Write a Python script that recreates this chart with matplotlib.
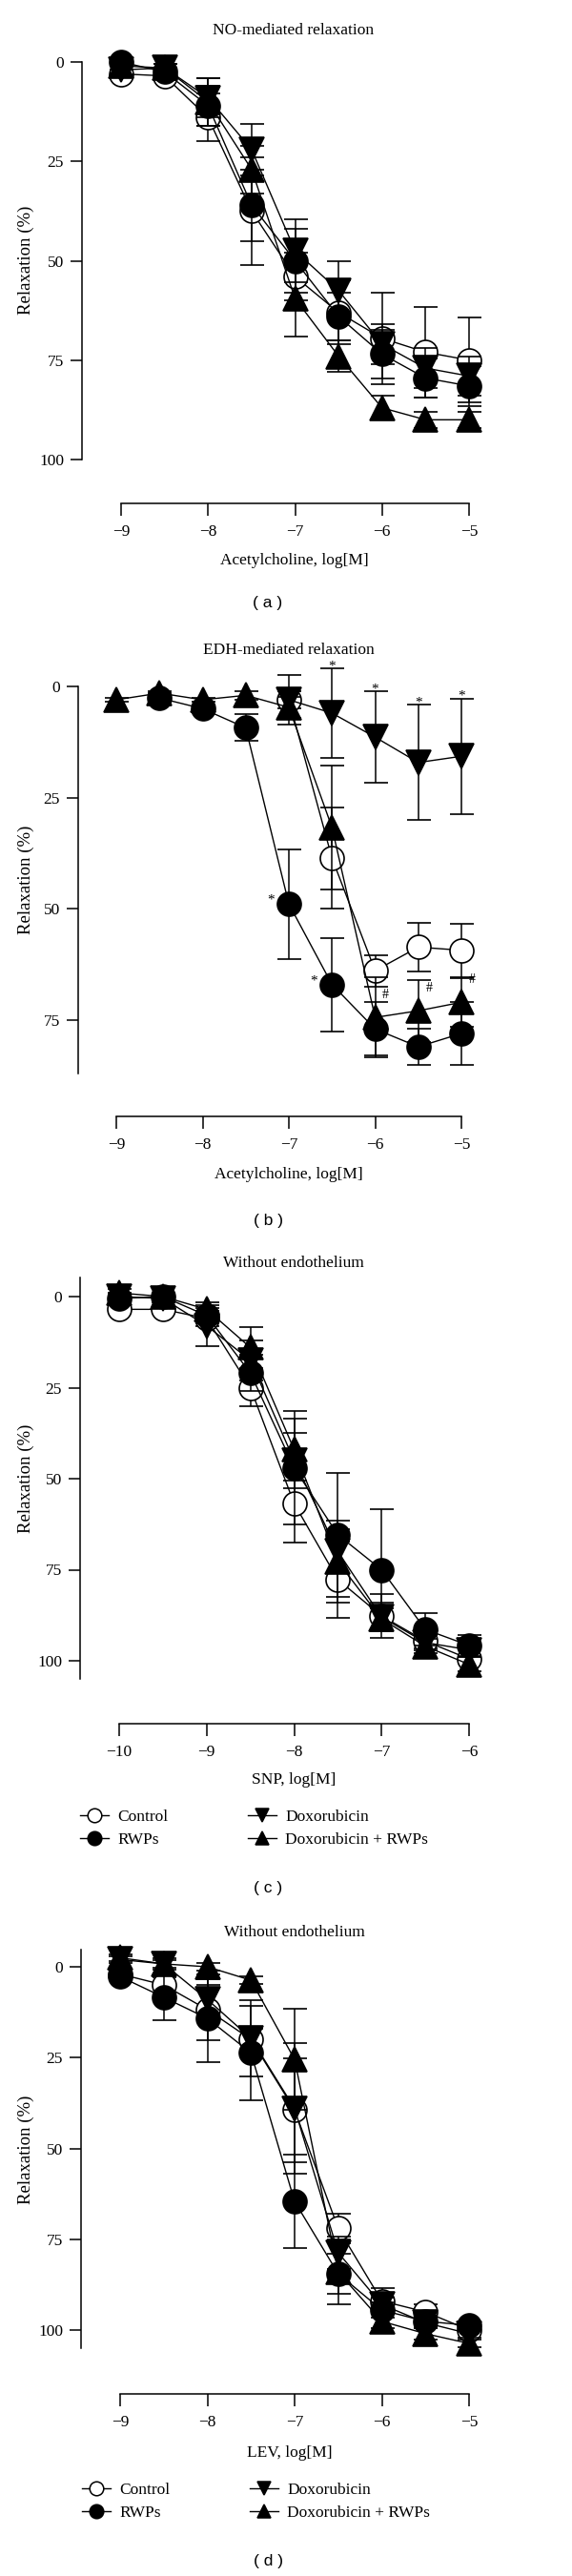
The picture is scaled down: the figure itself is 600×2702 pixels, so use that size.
import matplotlib
matplotlib.use("Agg")
import matplotlib.pyplot as plt
from matplotlib.lines import Line2D

plt.rcParams['font.family'] = ['Liberation Serif', 'DejaVu Serif']
plt.rcParams['axes.unicode_minus'] = True

W, H, DPI = 600, 2702, 100
FS = 12.5

# ---------------- data ----------------
series_labels = ["Control", "RWPs", "Doxorubicin", "Doxorubicin + RWPs"]

# (a) NO-mediated relaxation, Acetylcholine
xa = [-9, -8.5, -8, -7.5, -7, -6.5, -6, -5.5, -5]
a_ctrl = [3, 3.5, 14, 37.5, 54, 63, 69.5, 73, 75]
a_ctrl_err = [1, 1, 6, 13.5, 6, 8, 11.5, 11.4, 10.7]
a_rwps = [0, 2.5, 11, 36, 50, 64, 73.5, 79.5, 81.5]
a_rwps_err = [0.5, 1, 5, 9, 8, 6, 6, 5, 5]
a_dox = [2, 1.5, 9, 22, 47.5, 57.5, 71, 77, 79]
a_dox_err = [1, 1, 5, 6.5, 8, 7.5, 5, 5, 5]
a_doxr = [1, 1.5, 10, 27, 59.5, 74, 87, 90, 90]
a_doxr_err = [1, 1, 6, 6, 9.5, 4, 3, 2, 2]

# (b) EDH-mediated relaxation, Acetylcholine
xb = [-9, -8.5, -8, -7.5, -7, -6.5, -6, -5.5, -5]
b_doxr = [3, 1.5, 3, 2, 4.7, 31.7, 74.4, 72.9, 71]
b_doxr_err = [0.5, 0.5, 0.5, 1, 2.3, 14, 9, 7, 5.5]
xb_c = [-7, -6.5, -6, -5.5, -5]
b_ctrl = [3, 38.6, 63.9, 58.6, 59.3]
b_ctrl_err = [2, 11.4, 3.5, 5.5, 6]
xb_r = [-8.5, -8, -7.5, -7, -6.5, -6, -5.5, -5]
b_rwps = [2.6, 5, 9.3, 48.9, 67, 77, 81, 78]
b_rwps_err = [1, 1, 3, 12.3, 10.5, 6, 4, 7]
xb_d = [-7, -6.5, -6, -5.5, -5]
b_dox = [3, 6, 11.4, 17.1, 15.7]
b_dox_err = [5.5, 10, 10.3, 13, 13]
b_star_dox_x = [-6.5, -6, -5.5, -5]
b_star_rwps_x = [-7, -6.5]
b_hash_x = [-6, -5.5, -5]

# (c) Without endothelium, SNP
xc = [-10, -9.5, -9, -8.5, -8, -7.5, -7, -6.5, -6]
c_ctrl = [3.5, 3.5, 6, 25, 56.8, 77.7, 87.7, 94.6, 99.5]
c_ctrl_err = [1, 1, 2, 5, 10.7, 10.5, 6, 2, 1]
c_rwps = [0.5, 0, 5.2, 21, 47, 65.4, 75, 91.4, 95.8]
c_rwps_err = [1, 1, 2, 5, 15.6, 17, 16.6, 4.4, 2.8]
c_dox = [0, 0.5, 8, 17.5, 45, 70, 88, 95, 97]
c_dox_err = [1, 1, 5.6, 5.5, 7.6, 6, 4, 2, 2]
c_doxr = [-1, 0, 3.5, 14, 42, 72.8, 88.5, 96, 101]
c_doxr_err = [1, 1, 2, 5.6, 8.6, 11.3, 3, 2, 2]

# (d) Without endothelium, LEV
xd = [-9, -8.5, -8, -7.5, -7, -6.5, -6, -5.5, -5]
d_ctrl = [2, 5, 11.8, 20, 39.4, 72, 92, 95, 100]
d_ctrl_err = [1, 2, 8.4, 3, 14.3, 4, 3.5, 2, 1]
d_rwps = [2.7, 8.4, 14.2, 23.7, 64.6, 84.5, 94.5, 97.6, 98.7]
d_rwps_err = [1, 6.3, 12, 13, 12.8, 5.5, 2, 1.5, 1]
d_dox = [-2, -0.8, 9, 19.7, 39, 78.7, 93, 98, 101]
d_dox_err = [1, 1.5, 4, 10.5, 18, 4.5, 2, 1.5, 1]
d_doxr = [-2.5, -0.8, 0, 3.7, 25.5, 84, 97.6, 101, 103.7]
d_doxr_err = [1, 1, 1, 1, 14, 8.9, 2, 1.5, 1]

# ---------------- styles ----------------
STYLES = {
    "Control": dict(marker='o', mfc='white', ms=18),
    "RWPs": dict(marker='o', mfc='black', ms=18),
    "Doxorubicin": dict(marker='v', mfc='black', ms=18.5),
    "Doxorubicin + RWPs": dict(marker='^', mfc='black', ms=18.5),
}

fig = plt.figure(figsize=(W / DPI, H / DPI), dpi=DPI)


def make_panel(xcal, ycal, spine_x, xaxis_y, top_px, xticks, yticks, ybounds):
    (xd0, xp0), (xd1, xp1) = xcal
    (yd0, yp0), (yd1, yp1) = ycal
    sx = (xp1 - xp0) / (xd1 - xd0)
    sy = (yp1 - yp0) / (yd1 - yd0)
    right_px = xp0 + (xticks[-1] - xd0) * sx
    xl = xd0 + (spine_x - xp0) / sx
    yt = yd0 + (top_px - yp0) / sy
    yb = yd0 + (xaxis_y - yp0) / sy
    ax = fig.add_axes([spine_x / W, 1 - xaxis_y / H,
                       (right_px - spine_x) / W, (xaxis_y - top_px) / H])
    ax.set_xlim(xl, xticks[-1])
    ax.set_ylim(yb, yt)
    ax.patch.set_alpha(0)
    for s in ('top', 'right'):
        ax.spines[s].set_visible(False)
    ax.spines['left'].set_bounds(*ybounds)
    ax.spines['bottom'].set_bounds(xticks[0], xticks[-1])
    for s in ('left', 'bottom'):
        ax.spines[s].set_linewidth(1.1)
    ax.set_xticks(xticks)
    ax.set_yticks(yticks)
    ax.tick_params(axis='y', direction='out', length=8.6, width=1.1, pad=5, labelsize=FS)
    ax.tick_params(axis='x', direction='out', length=9.5, width=1.1, pad=6, labelsize=FS)
    return ax


def draw_series(ax, x, y, e, label, z):
    st = STYLES[label]
    cont = ax.errorbar(x, y, yerr=e, color='black', lw=1.0, elinewidth=1.1,
                       capsize=9, capthick=1.1, marker=st['marker'], ms=st['ms'],
                       mfc=st['mfc'], mec='black', mew=1.2, zorder=z, clip_on=False)
    for art in cont.get_children():
        art.set_clip_on(False)
    return cont


def panel_text(x, y, s, size=FS, **kw):
    fig.text(x / W, 1 - y / H, s, ha='center', va='center', fontsize=size, **kw)


def letter(y, s):
    fig.text(281 / W, 1 - y / H, s, ha='center', va='center', fontsize=12.5,
             family=['Liberation Sans', 'DejaVu Sans'])


def add_legend(x_px, y_px):
    handles = [Line2D([], [], color='black', lw=1.0, marker=STYLES[l]['marker'],
                      ms=10.5, mfc=STYLES[l]['mfc'], mec='black', mew=1.1)
               for l in series_labels]
    fig.legend(handles, series_labels, ncol=2, loc='upper left',
               bbox_to_anchor=(x_px / W, 1 - y_px / H), frameon=False,
               borderpad=0, borderaxespad=0, handlelength=1.7, handletextpad=0.55,
               columnspacing=4.83, labelspacing=0.43, prop={'size': FS})


# ---------------- panel (a) ----------------
ax = make_panel(((-9, 127), (-5, 492)), ((0, 65), (100, 482)), 86, 528, 65,
                [-9, -8, -7, -6, -5], [0, 25, 50, 75, 100], (0, 100))
draw_series(ax, xa, a_ctrl, a_ctrl_err, "Control", 3)
draw_series(ax, xa, a_rwps, a_rwps_err, "RWPs", 4)
draw_series(ax, xa, a_dox, a_dox_err, "Doxorubicin", 5)
draw_series(ax, xa, a_doxr, a_doxr_err, "Doxorubicin + RWPs", 6)
panel_text(308, 32, "NO-mediated relaxation")
panel_text(309, 588, "Acetylcholine, log[M]")
panel_text(27, 273, "Relaxation (%)", size=13.5, rotation=90)
letter(633, "( a )")

# ---------------- panel (b) ----------------
ax = make_panel(((-9, 122), (-5, 484)), ((0, 720), (75, 1070)), 82, 1171, 720,
                [-9, -8, -7, -6, -5], [0, 25, 50, 75], (0, 87))
draw_series(ax, xb_c, b_ctrl, b_ctrl_err, "Control", 3)
draw_series(ax, xb_r, b_rwps, b_rwps_err, "RWPs", 4)
draw_series(ax, xb_d, b_dox, b_dox_err, "Doxorubicin", 5)
draw_series(ax, xb, b_doxr, b_doxr_err, "Doxorubicin + RWPs", 6)
for xv in b_star_dox_x:
    i = xb_d.index(xv)
    ax.annotate('*', (xv, b_dox[i] - b_dox_err[i]), xytext=(0, -3),
                textcoords='offset points', ha='center', va='bottom', fontsize=11,
                annotation_clip=False)
for xv in b_star_rwps_x:
    i = xb_r.index(xv)
    ax.annotate('*', (xv, b_rwps[i]), xytext=(-13.5, -2),
                textcoords='offset points', ha='center', va='bottom', fontsize=11,
                annotation_clip=False)
for xv in b_hash_x:
    i = xb.index(xv)
    ax.annotate('#', (xv, b_doxr[i]), xytext=(8, 17),
                textcoords='offset points', ha='center', va='center', fontsize=10,
                annotation_clip=False)
panel_text(303, 682, "EDH-mediated relaxation")
panel_text(303, 1232, "Acetylcholine, log[M]")
panel_text(27, 923, "Relaxation (%)", size=13.5, rotation=90)
letter(1280, "( b )")

# ---------------- panel (c) ----------------
ax = make_panel(((-10, 125), (-6, 492)), ((0, 1360), (100, 1742)), 84, 1808, 1340,
                [-10, -9, -8, -7, -6], [0, 25, 50, 75, 100], (-5.2, 105))
draw_series(ax, xc, c_ctrl, c_ctrl_err, "Control", 3)
draw_series(ax, xc, c_rwps, c_rwps_err, "RWPs", 4)
draw_series(ax, xc, c_dox, c_dox_err, "Doxorubicin", 5)
draw_series(ax, xc, c_doxr, c_doxr_err, "Doxorubicin + RWPs", 6)
panel_text(308, 1325, "Without endothelium")
panel_text(308, 1867, "SNP, log[M]")
panel_text(27, 1551, "Relaxation (%)", size=13.5, rotation=90)
add_legend(84, 1898)
letter(1980, "( c )")

# ---------------- panel (d) ----------------
ax = make_panel(((-9, 126), (-5, 492)), ((0, 2063), (100, 2444)), 85, 2511, 2045,
                [-9, -8, -7, -6, -5], [0, 25, 50, 75, 100], (-4.7, 105))
draw_series(ax, xd, d_ctrl, d_ctrl_err, "Control", 3)
draw_series(ax, xd, d_rwps, d_rwps_err, "RWPs", 4)
draw_series(ax, xd, d_dox, d_dox_err, "Doxorubicin", 5)
draw_series(ax, xd, d_doxr, d_doxr_err, "Doxorubicin + RWPs", 6)
panel_text(309, 2027, "Without endothelium")
panel_text(304, 2573, "LEV, log[M]")
panel_text(27, 2255, "Relaxation (%)", size=13.5, rotation=90)
add_legend(86, 2604)
letter(2687, "( d )")

fig.savefig("out.png", dpi=DPI)
